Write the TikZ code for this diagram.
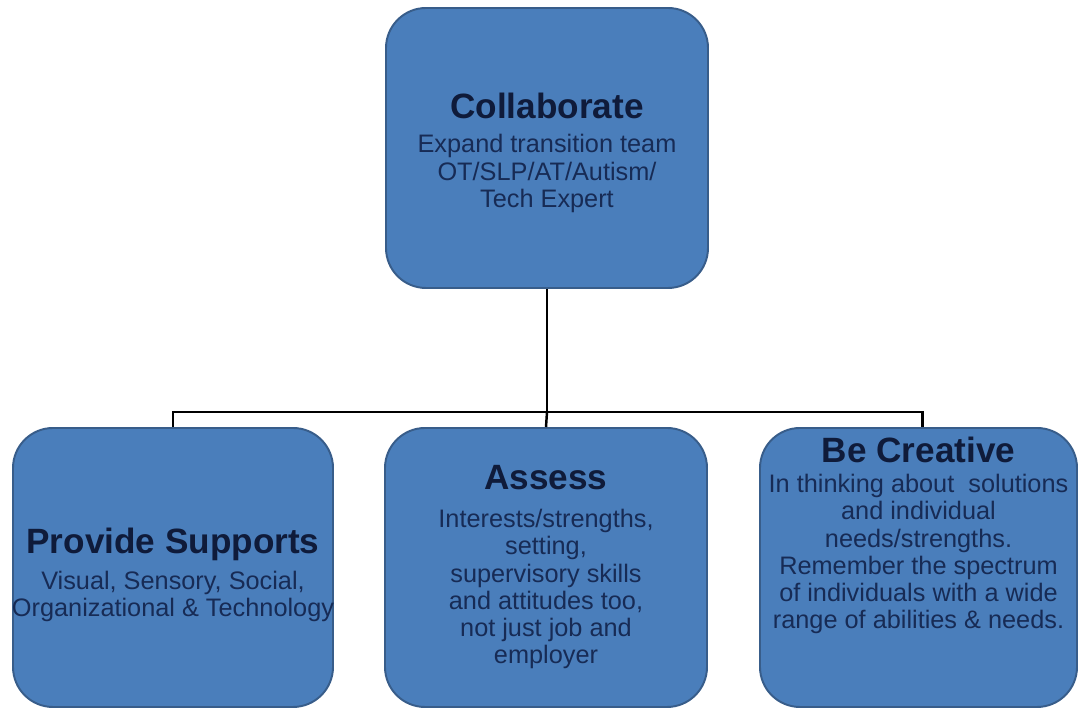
\documentclass[tikz,border=0pt]{standalone}
\usepackage{fontspec}
\setmainfont{Liberation Sans}
\usepackage{tikz}
\usetikzlibrary{positioning}

\definecolor{boxfill}{HTML}{4A7EBB}
\definecolor{boxline}{HTML}{385D8A}
\definecolor{headink}{HTML}{0F1B3A}
\definecolor{bodyink}{HTML}{172B55}

\newcommand{\headtext}[1]{{\fontsize{20}{22}\selectfont\bfseries\color{headink}#1}}

\tikzset{
	topic/.style={draw=boxline, line width=1.1pt, fill=boxfill, rounded corners=0.8cm,
		minimum width=6.4cm, minimum height=5.58cm},
	label/.style={align=center, text=bodyink, font=\fontsize{14.4}{15.5}\selectfont},
	link/.style={line width=1.4pt, black}
}

\begin{document}
\begin{tikzpicture}
	\useasboundingbox[fill=white] (0,0) rectangle (21.58,14.18);

	% boxes
	\node[topic, minimum width=6.44cm, minimum height=5.6cm] (collab) at (10.94,11.22) {};
	\node[topic] (supp) at (3.46,2.83) {};
	\node[topic, minimum width=6.44cm] (assess) at (10.92,2.83) {};
	\node[topic, minimum width=6.34cm] (crea) at (18.37,2.83) {};

	% texts
	\node[label] (collabtxt) at ([yshift=-0.1cm]collab) {\headtext{Collaborate}\\[4pt]
		Expand transition team\\ OT/SLP/AT/Autism/\\ Tech Expert};
	\node[label] (supptxt) at ([yshift=-0.15cm]supp) {\headtext{Provide Supports}\\[5pt]
		Visual, Sensory, Social,\\ Organizational \& Technology};
	\node[label] (assesstxt) at (assess) {\headtext{Assess}\\[6pt]
		Interests/strengths,\\ setting,\\ supervisory skills\\ and attitudes too,\\ not just job and\\ employer};
	\node[label, anchor=north] (creatxt) at ([yshift=-0.08cm]crea.north) {\headtext{Be Creative}\\[1.5pt]
		In thinking about\ \ solutions\\ and individual\\ needs/strengths.\\ Remember the spectrum\\ of individuals with a wide\\ range of abilities \& needs.};

	% connectors
	\coordinate (bus) at (collab.south |- 0,5.94);
	\draw[link] (collab.south) -- (bus);
	\draw[link] (supp.north) |- (bus) -| ([xshift=0.08cm]crea.north);
	\draw[link] (bus) -- (assess.north);
\end{tikzpicture}
\end{document}
